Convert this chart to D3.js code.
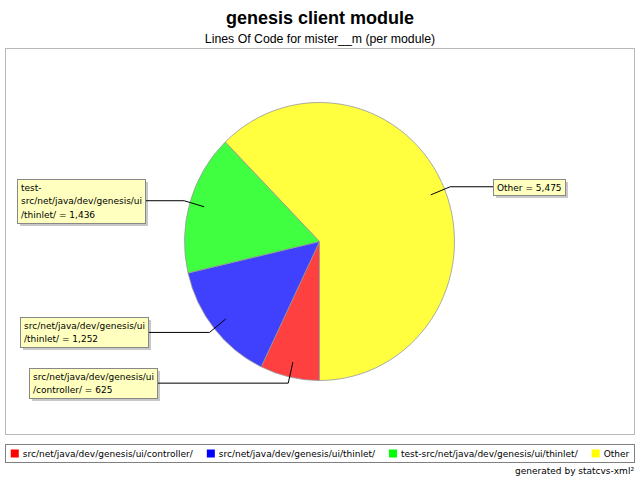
<!DOCTYPE html>
<html>
<head>
<meta charset="utf-8">
<script src="https://cdn.jsdelivr.net/npm/d3@7"></script>
<style>
  html, body { margin: 0; padding: 0; background: #fff; }
  svg { display: block; }
</style>
</head>
<body>
<svg id="chart" width="640" height="480"></svg>
<script>
// ---- data ----
const categories = [
  "src/net/java/dev/genesis/ui/controller/",
  "src/net/java/dev/genesis/ui/thinlet/",
  "test-src/net/java/dev/genesis/ui/thinlet/",
  "Other"
];
const values = [625, 1252, 1436, 5475];
const colors = ["#ff0000", "#0000ff", "#00ff00", "#ffff00"];
const titleText = "genesis client module";
const subtitleText = "Lines Of Code for mister__m (per module)";
const footerText = "generated by statcvs-xml\u00B2";

// ---- layout ----
const W = 640, H = 480;
const cx = 319.5, cy = 241.5, rx = 135, ry = 139;
const labelLeft = [29, 20, 17, 493];
const labelFont = "9px 'DejaVu Sans'";

const svg = d3.select("#chart");
svg.append("rect").attr("width", W).attr("height", H).attr("fill", "#fff");

// titles
svg.append("text").attr("x", 320).attr("y", 24).attr("text-anchor", "middle")
  .style("font", "bold 18px 'Liberation Sans', Arial, sans-serif").attr("fill", "#000")
  .text(titleText);
svg.append("text").attr("x", 320).attr("y", 43).attr("text-anchor", "middle")
  .style("font", "12.3px 'Liberation Sans', Arial, sans-serif").attr("fill", "#000")
  .text(subtitleText);

// plot area
svg.append("rect").attr("x", 5.5).attr("y", 48.5).attr("width", 629).attr("height", 386)
  .attr("fill", "#fff").attr("stroke", "#b8b8b8").attr("stroke-width", 1);

// pie
const pie = d3.pie().sort(null).startAngle(Math.PI).endAngle(3 * Math.PI)(values);
const arc = d3.arc().innerRadius(0).outerRadius(rx);
const pg = svg.append("g").attr("transform", `translate(${cx},${cy}) scale(1,${ry / rx})`);
pg.selectAll("path.slice").data(pie).join("path")
  .attr("class", "slice")
  .attr("d", arc)
  .attr("fill", (d, i) => colors[i])
  .attr("fill-opacity", 0.75)
  .attr("stroke", "#999")
  .attr("stroke-opacity", 0.8)
  .attr("stroke-width", 1)
  .attr("vector-effect", "non-scaling-stroke");

// label wrapping
function wrapLabel(str, maxChars) {
  const tokens = str.split(/(?<=-)|(?= )/);
  const lines = [];
  let cur = "";
  tokens.forEach(t => {
    if ((cur + t).length <= maxChars) { cur += t; return; }
    if (cur.trim().length) lines.push(cur);
    cur = t.replace(/^ /, "");
    while (cur.length > maxChars) { lines.push(cur.slice(0, maxChars)); cur = cur.slice(maxChars); }
  });
  if (cur.length) lines.push(cur);
  return lines;
}
const fmt = d3.format(",");
const lg = svg.append("g");
pie.forEach((d, i) => {
  const a = (d.startAngle + d.endAngle) / 2;
  const px = f => cx + rx * f * Math.sin(a);
  const py = f => cy - ry * f * Math.cos(a);
  const ax = px(0.89), ay = py(0.89);
  const ex = px(1.045), ey = py(1.045);
  const lines = wrapLabel(categories[i] + " = " + fmt(values[i]), 27);
  const g = lg.append("g");
  const txt = g.append("text").style("font", labelFont).attr("fill", "#000");
  lines.forEach((l, k) => txt.append("tspan").attr("x", 0).attr("y", k * 13.7).text(l));
  let tw = 0;
  txt.selectAll("tspan").each(function () { tw = Math.max(tw, this.getComputedTextLength()); });
  const bw = Math.round(tw + 7), bh = lines.length * 14 + 2;
  const bx = labelLeft[i], by = Math.round(ey - bh / 2);
  g.insert("rect", "text").attr("x", bx + 3).attr("y", by + 3).attr("width", bw).attr("height", bh)
    .attr("fill", "#c8c8c8");
  g.insert("rect", "text").attr("x", bx + 0.5).attr("y", by + 0.5).attr("width", bw).attr("height", bh)
    .attr("fill", "#ffffc0").attr("stroke", "#888").attr("stroke-width", 1);
  txt.attr("transform", `translate(${bx + 4},${by + 11.5})`);
  const sx = ex > cx ? bx : bx + bw + 1;
  lg.append("path").attr("d", `M${sx},${ey}L${ex},${ey}L${ax},${ay}`)
    .attr("fill", "none").attr("stroke", "#000").attr("stroke-width", 1);
});

// legend
svg.append("rect").attr("x", 5.5).attr("y", 444.5).attr("width", 629).attr("height", 18)
  .attr("fill", "#fff").attr("stroke", "#808080").attr("stroke-width", 1);
const leg = svg.append("g");
let lx = 0;
categories.forEach((c, i) => {
  leg.append("rect").attr("x", lx).attr("y", 449.5).attr("width", 8).attr("height", 8)
    .attr("fill", colors[i]);
  const t = leg.append("text").attr("x", lx + 12).attr("y", 457)
    .style("font", labelFont).attr("fill", "#000").text(c);
  lx += 12 + t.node().getComputedTextLength() + 14;
});
lx -= 14;
leg.attr("transform", `translate(${320 - lx / 2},0)`);

// footer
svg.append("text").attr("x", 634).attr("y", 474).attr("text-anchor", "end")
  .style("font", "9px 'DejaVu Sans'").attr("fill", "#000").text(footerText);
</script>
</body>
</html>
